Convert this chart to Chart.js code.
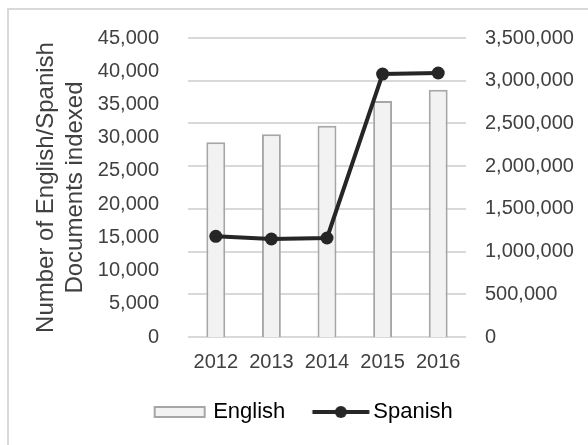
<!DOCTYPE html>
<html>
<head>
<meta charset="utf-8">
<script src="https://cdn.jsdelivr.net/npm/chart.js@4.4.0/dist/chart.umd.min.js"></script>
<style>
  html, body { margin: 0; padding: 0; background: #fff; }
  #wrap { position: relative; width: 588px; height: 445px; overflow: hidden; }
  #frame { position: absolute; left: 7px; top: 8px; width: 700px; height: 600px;
           border-top: 2px solid #d9d9d9; border-left: 2px solid #d9d9d9; }
  canvas { position: absolute; left: 0; top: 0; }
</style>
</head>
<body>
<div id="wrap">
  <div id="frame"></div>
  <canvas id="myChart" width="588" height="445"></canvas>
</div>
<script>
const years = ["2012", "2013", "2014", "2015", "2016"];
const english = [29300, 30500, 31800, 35500, 37200];
const spanish = [1178000, 1147000, 1159000, 3078000, 3090000];
const leftMax = 45000, leftStep = 5000;
const rightMax = 3500000, rightStep = 500000;

const fontName = "'Liberation Sans', Arial, sans-serif";
const textColor = "#404040";

// legend icons
const boxIcon = document.createElement("canvas");
boxIcon.width = 72; boxIcon.height = 14;
(function () {
  const g = boxIcon.getContext("2d");
  g.fillStyle = "#f2f2f2";
  g.fillRect(17, 2, 50, 10);
  g.strokeStyle = "#a6a6a6";
  g.lineWidth = 2;
  g.strokeRect(17, 2, 50, 10);
})();

const lineIcon = document.createElement("canvas");
lineIcon.width = 76; lineIcon.height = 16;
(function () {
  const g = lineIcon.getContext("2d");
  g.strokeStyle = "#262626";
  g.lineWidth = 4;
  g.beginPath(); g.moveTo(16.5, 8); g.lineTo(73.5, 8); g.stroke();
  g.fillStyle = "#262626";
  g.beginPath(); g.arc(45, 8, 6, 0, Math.PI * 2); g.fill();
})();

const ctx = document.getElementById("myChart");
new Chart(ctx, {
  data: {
    labels: years,
    datasets: [
      {
        type: "bar",
        label: "English",
        data: english,
        yAxisID: "y",
        backgroundColor: "#f2f2f2",
        borderColor: "#a6a6a6",
        borderWidth: 2,
        barPercentage: 0.34,
        categoryPercentage: 1,
        order: 1,
      },
      {
        type: "line",
        label: "Spanish",
        data: spanish,
        yAxisID: "y1",
        borderColor: "#262626",
        backgroundColor: "#262626",
        borderWidth: 4,
        pointRadius: 6.5,
        pointBorderWidth: 0,
        pointBackgroundColor: "#262626",
        tension: 0,
        order: 0,
      },
    ],
  },
  options: {
    responsive: false,
    animation: false,
    layout: { autoPadding: false, padding: { top: 38, left: 10, right: 0, bottom: 12 } },
    plugins: {
      tooltip: { enabled: false },
      legend: {
        position: "bottom",
        maxHeight: 62,
        labels: {
          usePointStyle: true,
          pointStyleWidth: 57,
          padding: 20,
          color: "#000",
          font: { family: fontName, size: 22 },
          generateLabels: (chart) => {
            const items = Chart.defaults.plugins.legend.labels.generateLabels(chart);
            items.forEach((it) => { it.pointStyle = it.datasetIndex === 0 ? boxIcon : lineIcon; });
            return items.sort((a, b) => a.datasetIndex - b.datasetIndex);
          },
        },
      },
    },
    scales: {
      x: {
        grid: { display: false },
        border: { display: false },
        ticks: { color: textColor, font: { family: fontName, size: 20 }, padding: 5 },
        afterFit: (s) => { s.height = 44; },
      },
      y: {
        position: "left",
        min: 0,
        max: leftMax,
        grid: { display: false },
        border: { display: false },
        ticks: {
          stepSize: leftStep,
          padding: 21,
          color: textColor,
          font: { family: fontName, size: 20 },
          callback: (v) => v.toLocaleString("en-US"),
        },
        title: {
          display: true,
          text: ["Number of English/Spanish", "Documents indexed"],
          color: textColor,
          font: { family: fontName, size: 24, lineHeight: 1.2 },
          padding: { top: 22, bottom: 0 },
        },
        afterFit: (s) => { s.width = 178; },
      },
      y1: {
        position: "right",
        min: 0,
        max: rightMax,
        grid: { color: "#d9d9d9", lineWidth: 2, drawTicks: false },
        border: { display: false },
        ticks: {
          stepSize: rightStep,
          padding: 19,
          color: textColor,
          font: { family: fontName, size: 20 },
          callback: (v) => v.toLocaleString("en-US"),
        },
        afterFit: (s) => { s.width = 122; },
      },
    },
  },
});
</script>
</body>
</html>
